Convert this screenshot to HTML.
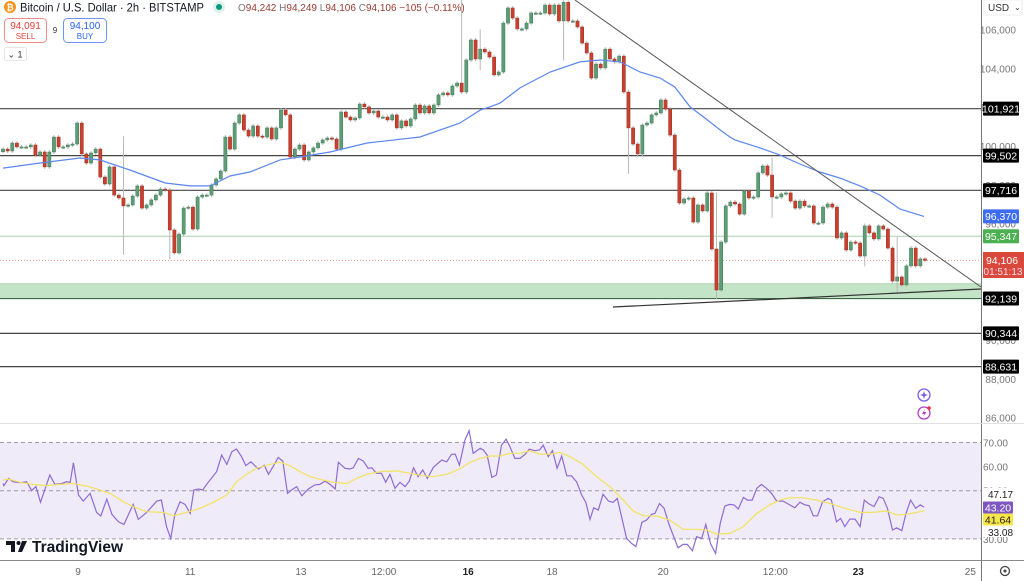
<!DOCTYPE html>
<html><head><meta charset="utf-8">
<style>
html,body{margin:0;padding:0;background:#fff;}
body{width:1024px;height:581px;overflow:hidden;position:relative;font-family:"Liberation Sans",sans-serif;}
svg{position:absolute;left:0;top:0;}
</style></head>
<body>
<svg id="chart" width="1024" height="581" viewBox="0 0 1024 581" xmlns="http://www.w3.org/2000/svg" font-family="Liberation Sans, sans-serif">
  <rect x="0" y="0" width="1024" height="581" fill="#ffffff"/>
  <g id="bg"></g>
  <g id="levels"></g>
  <g id="candles"></g>
  <g id="overlay"></g>
  <g id="rsi"></g>
  <g id="axes"></g>
  <g id="header"></g>
</svg>
<script>
// ---------------- DATA ----------------
const closes = [
99.84,99.74,100.15,99.95,99.95,99.95,100.05,99.53,99.69,98.92,
99.69,100.46,99.95,99.95,100.05,100.10,101.18,99.59,99.12,99.64,
99.84,98.40,98.04,98.92,97.47,97.32,96.91,96.96,97.42,97.94,
96.80,96.96,97.22,97.47,97.78,97.73,95.67,94.49,95.46,96.80,
96.85,95.72,97.37,97.47,97.47,97.99,98.30,98.71,100.46,99.84,
101.18,101.60,
100.82,100.51,101.03,100.51,100.46,100.93,100.36,100.93,101.85,101.60,
99.43,99.84,100.05,99.28,99.69,99.90,100.15,100.31,100.41,100.36,
99.84,101.75,101.49,101.34,101.44,102.16,102.01,101.70,101.80,101.49,
101.49,101.34,101.60,100.93,101.29,101.03,101.39,102.11,101.70,102.06,
101.70,102.11,102.63,102.73,102.63,103.09,103.24,102.78,104.43,105.46,
104.48,104.99,104.84,104.58,
103.66,103.81,106.33,107.11,106.59,106.03,106.03,106.33,106.85,106.85,
106.85,107.26,106.80,107.26,106.44,107.40,106.44,106.44,106.13,105.30,
104.79,103.50,104.22,104.02,104.99,104.48,104.33,104.63,102.78,100.93,
100.10,99.59,101.08,101.18,101.60,101.70,102.37,101.90,100.56,98.76,
97.06,97.27,97.32,96.08,96.96,96.65,97.58,94.69,92.58,95.05,
96.91,
97.11,97.01,96.49,97.68,97.32,97.37,98.61,98.97,98.50,97.37,
97.37,97.53,97.58,97.16,96.80,97.16,96.91,96.91,96.03,96.03,
96.85,97.01,96.85,95.26,95.52,94.64,95.05,95.00,94.33,95.88,
95.52,95.21,95.88,95.72,94.74,93.04,93.25,92.84,93.82,94.74,
93.82,94.18,94.106
];
const firstOpen = 99.70;
// notable wicks (candle index, high, low) in $k
const wickIdx = [26, 36, 99, 103, 121, 135, 154, 166, 186, 193];
const wickHi  = [100.40, 96.6, 107.6, 105.9, 107.5, 101.2, 97.5, 99.3, 95.9, 95.2];
const wickLo  = [94.50, 94.28, 103.3, 104.0, 104.5, 98.66, 92.2, 96.4, 93.9, 92.5];
// 50-period moving average (blue)
const maIdx = [0,8.0,16.6,20.9,27.4,35.0,40.4,44.7,49.0,53.3,59.8,64.1,70.6,78.6,90.0,98.6,103.0,105.1,107.3,111.6,118.1,124.5,128.9,133.2,137.5,141.8,145.0,148.3,151.5,154.8,156.9,158.0,163.4,167.7,172.0,176.3,180.6,185.0,189.3,193.6,198.8];
const maVal = [98.86,99.12,99.38,99.28,98.76,98.09,97.94,97.94,98.45,98.66,99.28,99.43,99.69,100.15,100.46,101.18,101.85,102.01,102.21,102.99,103.81,104.33,104.43,104.33,103.81,103.50,103.04,102.01,101.44,100.82,100.46,100.31,99.90,99.53,99.07,98.66,98.35,97.94,97.47,96.75,96.37];
// RSI
const rsiIdx = [0,0.2,1.2,2.2,3.7,5.1,6.2,7.1,8.1,10.1,11.2,12.7,13.7,14.5,15.2,16.3,17.3,18.8,20.2,21.1,22.4,23.5,24.9,26.1,28.1,29.2,31.0,33.2,34.2,35.3,36.2,37.1,38.2,39.3,40.4,41.2,42.2,43.1,44.3,46.1,47.2,48.3,49.4,50.4,51.5,52.4,53.5,55.1,56.4,57.3,58.3,59.4,60.4,61.4,62.3,63.4,64.5,65.9,67.3,68.4,69.5,70.6,71.7,72.4,73.8,74.9,75.6,76.7,77.8,78.8,79.6,80.6,81.7,82.6,83.5,84.6,85.7,86.8,87.7,88.6,89.6,90.6,91.6,92.9,94.7,95.8,96.8,97.6,98.5,99.7,100.6,101.5,103.0,103.7,104.5,105.5,106.5,107.6,108.6,109.4,110.5,111.6,112.7,113.6,114.8,115.8,116.6,117.7,118.6,119.6,120.6,121.7,122.7,123.8,124.9,125.8,126.7,127.5,128.5,129.5,130.7,131.7,132.6,134.6,135.7,136.6,137.9,138.9,140.0,140.7,141.7,142.7,143.8,145.7,146.8,147.7,148.8,149.7,150.8,151.7,152.7,153.8,154.8,155.8,156.8,157.8,158.7,159.8,160.7,161.7,162.7,163.7,164.8,165.9,167.0,168.4,169.6,170.9,172.0,173.1,174.0,174.9,175.8,176.9,178.1,178.8,179.9,180.8,181.7,182.8,183.9,185.0,185.9,186.8,188.0,189.1,190.0,190.9,192.0,192.9,194.0,194.9,195.9,197.0,198.0,198.8];
const rsiVal = [53.0,52.1,55.1,53.7,53.3,53.7,50.1,51.7,45.2,56.5,52.6,53.0,53.7,53.5,61.6,48.2,45.7,48.9,41.0,39.5,46.5,40.2,37.1,36.0,44.3,38.1,41.0,45.7,46.1,35.1,30.2,40.2,45.4,44.3,40.6,50.3,50.7,50.3,53.5,57.9,64.8,60.9,66.2,67.3,64.1,60.4,62.0,59.0,60.6,56.8,60.0,63.8,62.3,48.9,50.3,51.7,47.9,50.7,52.4,52.6,54.0,52.6,50.7,61.8,59.3,59.0,59.5,63.4,62.3,59.3,59.5,57.2,57.2,53.5,56.8,51.0,53.5,51.7,54.0,59.5,55.8,58.6,55.1,59.7,62.7,62.0,65.1,65.2,60.6,71.0,74.9,65.5,67.6,66.9,64.8,55.5,56.5,68.9,71.4,68.3,63.4,63.4,65.1,67.2,66.6,66.9,68.9,64.1,66.6,59.3,64.4,56.2,56.2,53.7,48.2,45.2,38.1,42.9,42.0,48.5,45.7,45.2,46.8,30.2,28.1,26.8,36.9,37.8,40.2,40.6,44.7,42.7,35.8,26.3,27.7,27.7,25.1,30.9,30.2,36.0,28.1,24.0,36.4,43.6,44.3,44.1,42.4,47.2,46.1,46.1,51.0,52.6,51.0,48.9,45.7,45.7,44.3,42.9,45.2,44.1,43.8,39.6,39.6,45.4,46.8,46.1,37.1,38.5,35.1,38.2,38.2,35.1,46.1,44.7,43.4,47.5,46.8,42.7,33.7,34.6,33.4,40.6,46.1,42.7,44.1,43.2];
const rsiMaIdx = [0,1.2,3.7,6.5,9.4,12.3,15.2,18.1,20.9,23.1,26.0,28.1,31.0,34.6,36.8,39.6,42.5,45.4,48.3,50.4,52.6,54.7,56.9,59.8,61.9,64.1,66.3,69.1,71.3,74.2,76.3,78.5,81.4,85.0,87.8,90.7,92.9,95.8,98.6,100.8,103.0,105.1,107.3,109.4,111.6,113.7,115.9,118.1,120.2,122.4,125.2,128.1,131.0,133.9,136.0,138.2,141.1,143.9,146.8,149.7,151.8,154.0,156.9,159.8,162.7,165.5,167.7,169.9,172.7,175.6,178.5,181.4,185.0,187.8,190.7,192.9,195.0,197.2,198.8];
const rsiMaVal = [54.4,54.8,53.5,52.6,52.1,52.6,53.0,51.9,50.3,48.9,45.4,43.4,41.3,41.0,39.6,41.0,42.7,45.2,48.2,53.7,56.8,59.3,60.6,61.8,60.4,57.9,55.8,54.4,53.5,53.0,55.1,56.8,57.9,58.2,57.2,56.2,55.8,56.8,59.0,61.8,63.4,64.4,64.4,65.5,65.5,66.5,65.2,65.2,65.9,64.1,60.9,55.8,51.7,46.1,41.6,39.6,39.5,37.8,34.0,34.0,33.7,32.0,32.3,35.1,40.6,44.1,46.1,47.1,47.1,46.1,44.7,42.9,41.0,41.0,41.6,39.9,40.2,41.0,41.6];
// horizontal levels ($)
const levelVals = [101921, 99502, 97716, 90344, 88631];
const levelLabels = ["101,921","99,502","97,716","90,344","88,631"];
const priceTicks = [106000,104000,102000,100000,98000,96000,94000,92000,90000,88000,86000];
const priceTickLabels = ["106,000","104,000","102,000","100,000","98,000","96,000","94,000","92,000","90,000","88,000","86,000"];
const rsiTicks = [70,60,50,40,30];
const rsiTickLabels = ["70.00","60.00","50.00","40.00","30.00"];
const dateIdx = [16.2,40.4,64.3,82.2,100.4,118.5,142.5,166.7,184.6,208.8];
const dateLabels = ["9","11","13","12:00","16","18","20","12:00","23","25"];
const dateBold = [false,false,false,false,true,false,false,false,true,false];

// ---------------- SCALES ----------------
const NS = "http://www.w3.org/2000/svg";
const PLOT_R = 981;
const xOf = i => 3 + i * 4.633;
const yOf = p => 29.5 + (106000 - p) * 0.01941;
const yK = k => yOf(k * 1000);
const yR = v => 490.7 - (v - 50) * 2.41;
function mk(tag, attrs, parent){
  const e = document.createElementNS(NS, tag);
  for (const k in attrs) e.setAttribute(k, attrs[k]);
  parent.appendChild(e);
  return e;
}
const gBg = document.getElementById('bg');
const gLv = document.getElementById('levels');
const gC = document.getElementById('candles');
const gO = document.getElementById('overlay');
const gR = document.getElementById('rsi');
const gA = document.getElementById('axes');
const gH = document.getElementById('header');

// support zone
const zone = mk('rect',{x:0,y:yOf(92900),width:PLOT_R,height:yOf(92139)-yOf(92900),fill:'#c3e4c6'},gBg);


mk('line',{x1:0,x2:PLOT_R,y1:yOf(92900),y2:yOf(92900),stroke:'#a8d8ad','stroke-width':1},gBg);

// RSI band
const band = mk('rect',{x:0,y:yR(70),width:PLOT_R,height:yR(30)-yR(70),fill:'#efebf8'},gBg);


[70,50,30].forEach(v=>{
  mk('line',{x1:0,x2:PLOT_R,y1:yR(v),y2:yR(v),stroke:'#a09aa8','stroke-width':1,'stroke-dasharray':'4,3'},gBg);
});

// levels
levelVals.forEach((v,i)=>{
  const l = mk('line',{x1:0,x2:PLOT_R,y1:yOf(v),y2:yOf(v),stroke:'#444','stroke-width':1.2},gLv);
  
  
});
mk('line',{x1:0,x2:PLOT_R,y1:yOf(92139),y2:yOf(92139),stroke:'#3d6b45','stroke-width':1.2},gLv);
mk('line',{x1:0,x2:PLOT_R,y1:yOf(95347),y2:yOf(95347),stroke:'#a5d4a9','stroke-width':1},gLv);
mk('line',{x1:0,x2:PLOT_R,y1:yOf(94106),y2:yOf(94106),stroke:'#e57f74','stroke-width':0.8,'stroke-dasharray':'1,2'},gLv);

// candles
let prev = firstOpen;
closes.forEach((c,i)=>{
  const o = prev; prev = c;
  const up = c >= o;
  const x = xOf(i);
  const wi = wickIdx.indexOf(i);
  let hi = Math.max(o,c), lo = Math.min(o,c);
  if (wi >= 0){ hi = Math.max(hi, wickHi[wi]); lo = Math.min(lo, wickLo[wi]); }
  const w = mk('line',{x1:x,x2:x,y1:yK(hi)-2,y2:yK(lo)+2,stroke:'#b8b8b8','stroke-width':1},gC);
  
  
  const top = yK(Math.max(o,c)), bot = yK(Math.min(o,c));
  const b = mk('rect',{x:x-1.6,y:top,width:3.2,height:Math.max(1.2,bot-top),fill:up?'#5d9d76':'#c9402f',stroke:up?'#3f7a57':'#9e2e20','stroke-width':0.5},gC);
  
  
});

// moving average
let d = '';
maIdx.forEach((ix,i)=>{ d += (i?'L':'M') + xOf(ix).toFixed(1) + ',' + yK(maVal[i]).toFixed(1); });
const ma = mk('path',{d:d,fill:'none',stroke:'#5b86f0','stroke-width':1.2},gO);



// trend lines
const tl1 = mk('line',{x1:575,y1:0,x2:PLOT_R,y2:287,stroke:'#555','stroke-width':1},gO);


const tl2 = mk('line',{x1:613,y1:307,x2:PLOT_R,y2:289,stroke:'#333','stroke-width':1.2},gO);



// RSI lines
let dr = '';
rsiIdx.forEach((ix,i)=>{ dr += (i?'L':'M') + xOf(ix).toFixed(1) + ',' + yR(rsiVal[i]).toFixed(1); });
const rl = mk('path',{d:dr,fill:'none',stroke:'#8e6bd6','stroke-width':1.2},gR);


let dm = '';
rsiMaIdx.forEach((ix,i)=>{ dm += (i?'L':'M') + xOf(ix).toFixed(1) + ',' + yR(rsiMaVal[i]).toFixed(1); });
const rm = mk('path',{d:dm,fill:'none',stroke:'#f3e35e','stroke-width':1.2},gR);



// axes frame
mk('line',{x1:PLOT_R+0.5,x2:PLOT_R+0.5,y1:0,y2:581,stroke:'#777','stroke-width':1},gA);
mk('line',{x1:0,x2:1024,y1:423.5,y2:423.5,stroke:'#e0e0e0','stroke-width':1},gA);
mk('line',{x1:0,x2:1024,y1:560.5,y2:560.5,stroke:'#888','stroke-width':1},gA);

priceTicks.forEach((p,i)=>{
  const t = mk('text',{x:1016,y:yOf(p)+4,'font-size':10,fill:'#777','text-anchor':'end'},gA);
  t.textContent = priceTickLabels[i];
  
  
});
rsiTicks.forEach((v,i)=>{
  const t = mk('text',{x:1008,y:yR(v)+4,'font-size':10,fill:'#777','text-anchor':'end'},gA);
  t.textContent = rsiTickLabels[i];
  
  
});
dateIdx.forEach((ix,i)=>{
  const t = mk('text',{x:xOf(ix),y:575,'font-size':10,fill:dateBold[i]?'#222':'#666','font-weight':dateBold[i]?'bold':'normal','text-anchor':'middle'},gA);
  t.textContent = dateLabels[i];
  
  
});

function tag(yc, txt, bg, fg, w, h, name){
  const g = mk('g',{},gA);
  
  
  mk('rect',{x:983,y:yc-h/2,width:w,height:h,fill:bg,rx:1},g);
  const t = mk('text',{x:985+ (w-4)/2,y:yc+3.8,'font-size':10.5,fill:fg,'text-anchor':'middle'},g);
  t.textContent = txt;
  return g;
}
levelVals.forEach((v,i)=>{ tag(yOf(v), levelLabels[i], '#000', '#fff', 36, 14, 'level-label'); });
tag(yOf(92139), '92,139', '#000', '#fff', 36, 14, 'level-label');
tag(yOf(96370), '96,370', '#3d6cf2', '#fff', 36, 14, 'ma-price-label');
tag(yOf(95347), '95,347', '#4caf50', '#fff', 36, 14, 'level-label');
(function(){
  const g = mk('g',{},gA);
  
  
  mk('rect',{x:983,y:252,width:41,height:26,fill:'#d9483b'},g);
  const a = mk('text',{x:1002,y:264,'font-size':10.5,fill:'#fff','text-anchor':'middle'},g); a.textContent='94,106';
  const b = mk('text',{x:1003,y:275,'font-size':10,fill:'#fde','text-anchor':'middle'},g); b.textContent='01:51:13';
})();
// RSI labels
(function(){
  mk('rect',{x:983,y:488,width:40,height:12,fill:'#fff'},gA);
  const a = mk('text',{x:988,y:498,'font-size':10,fill:'#222'},gA); a.textContent='47.17';
   
  tag(507.5, '43.20', '#7e57c2', '#fff', 30, 12, 'rsi-value-label');
  tag(519.5, '41.64', '#f7e64a', '#222', 30, 12, 'rsi-ma-label');
  mk('rect',{x:983,y:526,width:40,height:11,fill:'#fff'},gA);
  const c = mk('text',{x:988,y:536,'font-size':10,fill:'#222'},gA); c.textContent='33.08';
   
})();

// USD + gear
(function(){
  const g = mk('g',{},gA);
  
  
  mk('rect',{x:984,y:0,width:38,height:15,fill:'#fff',stroke:'#eee'},g);
  const t = mk('text',{x:988,y:11,'font-size':10,fill:'#333'},g); t.textContent='USD';
  const c = mk('text',{x:1014,y:10,'font-size':8,fill:'#333'},g); c.textContent='⌄';
  const gg = mk('g',{},gA);
  
  
  mk('circle',{cx:1005,cy:571,r:4.5,fill:'none',stroke:'#444','stroke-width':1.3},gg);
  mk('circle',{cx:1005,cy:571,r:1.5,fill:'#444'},gg);
})();

// purple icons
(function(){
  const g1 = mk('g',{},gO);
  
  
  mk('circle',{cx:924,cy:395,r:6,fill:'#fff',stroke:'#7b5cf0','stroke-width':1.3},g1);
  mk('path',{d:'M924,391 L925,394 L928,395 L925,396 L924,399 L923,396 L920,395 L923,394 Z',fill:'#7b5cf0'},g1);
  const g2 = mk('g',{},gO);
  
  
  mk('circle',{cx:924,cy:413,r:6,fill:'#fff',stroke:'#b040c8','stroke-width':1.3},g2);
  mk('path',{d:'M925,409 L922,414 L924.5,414 L923,417 L926.5,412 L924,412 Z',fill:'#b040c8'},g2);
  mk('circle',{cx:929,cy:408,r:1.8,fill:'#ee3344'},g2);
})();

// TradingView logo
(function(){
  const g = mk('g',{},gO);
  
  
  mk('path',{d:'M6,541 h9 v11 h-4 v-7 h-5 z',fill:'#131722'},g);
  mk('circle',{cx:18.5,cy:543,r:2,fill:'#131722'},g);
  mk('path',{d:'M22,541 h5 l-5,11 h-4 z',fill:'#131722'},g);
  const t = mk('text',{x:32,y:552,'font-size':15.5,'font-weight':'bold',fill:'#131722'},g);
  t.textContent='TradingView';
})();

// header
(function(){
  const ic = mk('g',{},gH);
  
  
  mk('circle',{cx:10,cy:7,r:6,fill:'#f7931a'},ic);
  const b = mk('text',{x:10,y:10.5,'font-size':9,'font-weight':'bold',fill:'#fff','text-anchor':'middle'},ic); b.textContent='₿';
  const title = mk('text',{x:20,y:11.5,'font-size':12,fill:'#131722',textLength:184,lengthAdjust:'spacingAndGlyphs'},gH);
  title.textContent='Bitcoin / U.S. Dollar · 2h · BITSTAMP';
  
  
  mk('circle',{cx:219,cy:7,r:6,fill:'#dff2ea'},gH);
  const dot = mk('circle',{cx:219,cy:7,r:3,fill:'#089981'},gH);
  
  
  const o = mk('text',{x:238,y:11,'font-size':10,fill:'#9b3b30'},gH);
  
  
  o.innerHTML='<tspan fill="#777">O</tspan>94,242 <tspan fill="#777">H</tspan>94,249 <tspan fill="#777">L</tspan>94,106 <tspan fill="#777">C</tspan>94,106 −105 (−0.11%)';
  const s = mk('g',{},gH);
  
  
  mk('rect',{x:4.5,y:18.5,width:42,height:24,rx:4,fill:'#fff',stroke:'#f08a88'},s);
  const s1 = mk('text',{x:25.5,y:29,'font-size':10,fill:'#e5413a','text-anchor':'middle'},s); s1.textContent='94,091';
  const s2 = mk('text',{x:25.5,y:39,'font-size':8,fill:'#e5413a','text-anchor':'middle'},s); s2.textContent='SELL';
  const sp = mk('text',{x:55,y:33,'font-size':8,fill:'#333','text-anchor':'middle'},gH); sp.textContent='9';
  
  
  const bu = mk('g',{},gH);
  
  
  mk('rect',{x:63.5,y:18.5,width:43,height:24,rx:4,fill:'#fff',stroke:'#6f93f0'},bu);
  const b1 = mk('text',{x:85,y:29,'font-size':10,fill:'#2962ff','text-anchor':'middle'},bu); b1.textContent='94,100';
  const b2 = mk('text',{x:85,y:39,'font-size':8,fill:'#2962ff','text-anchor':'middle'},bu); b2.textContent='BUY';
  const c = mk('g',{},gH);
  
  
  mk('rect',{x:4.5,y:47.5,width:22,height:13,rx:2,fill:'#fff',stroke:'#e6e6e6'},c);
  const c1 = mk('text',{x:15,y:57.5,'font-size':9,fill:'#333','text-anchor':'middle'},c); c1.textContent='⌄ 1';
})();
</script>
</body></html>
